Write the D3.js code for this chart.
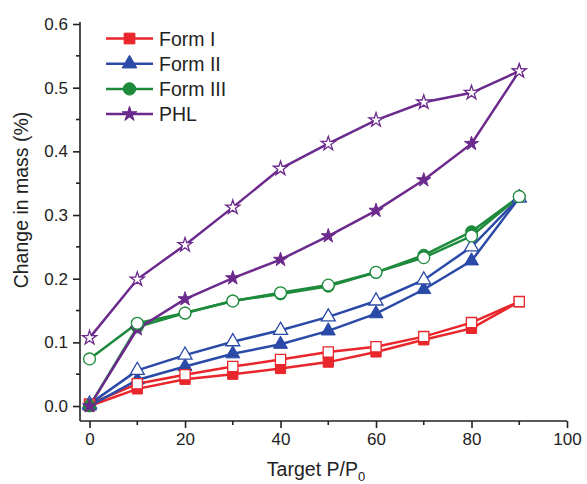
<!DOCTYPE html>
<html><head><meta charset="utf-8">
<script src="https://cdn.jsdelivr.net/npm/d3@7"></script>
<style>body{margin:0;background:#fff}svg{display:block}text{font-family:Arial,"Liberation Sans",sans-serif;fill:#222}</style>
</head><body>
<svg id="c" width="587" height="484"></svg>
<script>
const xVals = [0,10,20,30,40,50,60,70,80,90];
const formIAds  = [0,0.027,0.042,0.050,0.059,0.069,0.085,0.104,0.122,0.164];
const formIDes  = [0.003,0.035,0.049,0.062,0.073,0.085,0.093,0.109,0.131,0.164];
const formIIAds = [0,0.041,0.062,0.082,0.097,0.118,0.145,0.183,0.228,0.327];
const formIIDes = [0.003,0.056,0.080,0.101,0.119,0.140,0.165,0.198,0.250,0.327];
const formIIIAds= [0,0.124,0.146,0.165,0.176,0.188,0.210,0.237,0.274,0.329];
const formIIIDes= [0.074,0.130,0.146,0.165,0.178,0.190,0.210,0.233,0.267,0.329];
const phlAds    = [0,0.121,0.168,0.201,0.230,0.267,0.307,0.355,0.412,0.526];
const phlDes    = [0.107,0.199,0.253,0.312,0.373,0.412,0.449,0.477,0.492,0.526];
const seriesNames = ["Form I","Form II","Form III","PHL"];
const xTicks = [0,20,40,60,80,100];
const yTicks = [0.0,0.1,0.2,0.3,0.4,0.5,0.6];

const colors = {"Form I":"#e8262b","Form II":"#2b4aa8","Form III":"#1d8a3c","PHL":"#6b2a8c"};
const shapes = {"Form I":d3.symbolSquare,"Form II":d3.symbolTriangle,"Form III":d3.symbolCircle,"PHL":d3.symbolStar};
const sizes = {"Form I":105,"Form II":85,"Form III":110,"PHL":62};
const data = [
  {name:"Form I", ads:formIAds, des:formIDes},
  {name:"Form II", ads:formIIAds, des:formIIDes},
  {name:"Form III", ads:formIIIAds, des:formIIIDes},
  {name:"PHL", ads:phlAds, des:phlDes}
];

const svg = d3.select("#c");
const L=80, R=567, T=22, B=421;
const x = d3.scaleLinear().domain([-2,100]).range([L,R]);
const y = d3.scaleLinear().domain([-0.0235,0.6]).range([B,T+2]);

// axes
const xAxis = d3.axisBottom(x).tickValues(xTicks).tickFormat(d3.format("d")).tickSize(7).tickPadding(5);
const gx = svg.append("g").attr("transform",`translate(0,${B})`).call(xAxis);
gx.select(".domain").attr("d",`M${L},0H${R}`).attr("stroke","#222").attr("stroke-width",1.6);
gx.selectAll(".tick line").attr("stroke","#222").attr("stroke-width",1.6);
gx.selectAll("text").attr("font-size",17).attr("fill","#222");
svg.append("g").attr("transform",`translate(0,${B})`).selectAll("line").data([10,30,50,70,90]).join("line")
  .attr("x1",d=>x(d)).attr("x2",d=>x(d)).attr("y1",0).attr("y2",4).attr("stroke","#222").attr("stroke-width",1.6);

const yAxis = d3.axisLeft(y).tickValues(yTicks).tickFormat(d3.format(".1f")).tickSize(7).tickPadding(5);
const gy = svg.append("g").attr("transform",`translate(${L},0)`).call(yAxis);
gy.select(".domain").attr("d",`M0,${B}V${T}`).attr("stroke","#222").attr("stroke-width",1.6);
gy.selectAll(".tick line").attr("stroke","#222").attr("stroke-width",1.6);
gy.selectAll("text").attr("font-size",17).attr("fill","#222");
svg.append("g").attr("transform",`translate(${L},0)`).selectAll("line").data([0.05,0.15,0.25,0.35,0.45,0.55]).join("line")
  .attr("x1",0).attr("x2",-4).attr("y1",d=>y(d)).attr("y2",d=>y(d)).attr("stroke","#222").attr("stroke-width",1.6);

// titles
svg.append("text").attr("transform",`translate(28,200) rotate(-90)`).attr("text-anchor","middle")
  .attr("font-size",19.5).text("Change in mass (%)");
const xt = svg.append("text").attr("x",316).attr("y",476).attr("text-anchor","middle").attr("font-size",19.5);
xt.append("tspan").text("Target P/P");
xt.append("tspan").attr("font-size",13).attr("dy",5).text("0");

// lines
const line = d3.line().x((d,i)=>x(xVals[i])).y(d=>y(d));
const plot = svg.append("g");
data.forEach(s=>{
  plot.append("path").attr("d",line(s.des)).attr("fill","none").attr("stroke",colors[s.name]).attr("stroke-width",2.5);
  plot.append("path").attr("d",line(s.ads)).attr("fill","none").attr("stroke",colors[s.name]).attr("stroke-width",2.5);
});
function filled(s, idx){
  const sym = d3.symbol().type(shapes[s.name]).size(sizes[s.name]);
  plot.append("g").selectAll("path").data(idx).join("path")
    .attr("d",sym).attr("transform",i=>`translate(${x(xVals[i])},${y(s.ads[i])})`)
    .attr("fill",colors[s.name]).attr("stroke",colors[s.name]).attr("stroke-width",1);
}
const restIdx = xVals.map((v,i)=>i).filter(i=>xVals[i]!==0);
const zeroIdx = xVals.map((v,i)=>i).filter(i=>xVals[i]===0);
data.forEach(s=>filled(s, restIdx));
data.forEach(s=>{
  const sym = d3.symbol().type(shapes[s.name]).size(sizes[s.name]);
  plot.append("g").selectAll("path").data(s.des).join("path")
    .attr("d",sym).attr("transform",(d,i)=>`translate(${x(xVals[i])},${y(d)})`)
    .attr("fill","#fff").attr("stroke",colors[s.name]).attr("stroke-width",1.3);
});
data.forEach(s=>filled(s, zeroIdx));

// legend
const lg = svg.append("g");
seriesNames.forEach((n,i)=>{
  const yy = 38.5 + i*25.2;
  lg.append("line").attr("x1",106).attr("x2",153).attr("y1",yy).attr("y2",yy).attr("stroke",colors[n]).attr("stroke-width",2.5);
  lg.append("path").attr("d",d3.symbol().type(shapes[n]).size(sizes[n]*1.1)()).attr("transform",`translate(129.5,${yy})`)
    .attr("fill",colors[n]).attr("stroke",colors[n]);
  lg.append("text").attr("x",159).attr("y",yy+7).attr("font-size",19.5).text(n);
});
</script>
</body></html>
